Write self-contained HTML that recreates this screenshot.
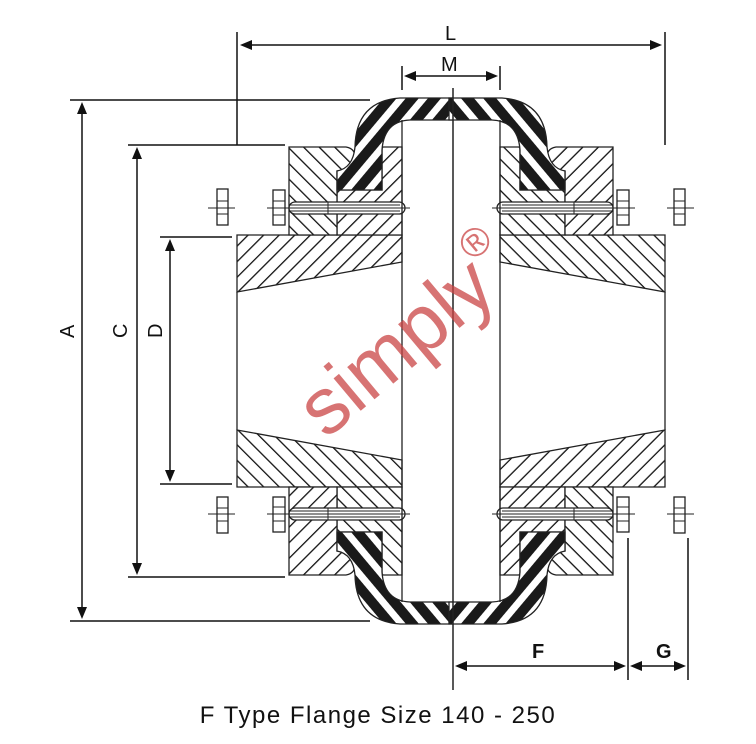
<!DOCTYPE html>
<html><head><meta charset="utf-8"><style>
html,body{margin:0;padding:0;background:#fff}
svg{display:block}
</style></head><body>
<svg width="756" height="744" viewBox="0 0 756 744" xmlns="http://www.w3.org/2000/svg">
<defs>
<pattern id="h1" patternUnits="userSpaceOnUse" width="11" height="11" patternTransform="rotate(45)">
<rect width="11" height="11" fill="#fff"/><rect x="0" y="0" width="1.3" height="11" fill="#111"/></pattern>
<pattern id="h2" patternUnits="userSpaceOnUse" width="11" height="11" patternTransform="rotate(-45)">
<rect width="11" height="11" fill="#fff"/><rect x="0" y="0" width="1.3" height="11" fill="#111"/></pattern>
<pattern id="tr" patternUnits="userSpaceOnUse" width="17" height="17" patternTransform="rotate(40)">
<rect width="17" height="17" fill="#fff"/><rect width="10" height="17" fill="#1a1a1a"/></pattern>
<g id="q" stroke="#222" stroke-width="1.3">
  <path d="M237,235 L402,235 L402,262 L237,292 Z" fill="url(#h1)"/>
  <path d="M382,147 L402,147 L402,235 L337,235 L337,190 L382,190 Z" fill="url(#h1)"/>
  <path d="M289,147 L346,147 Q357,149 354,160 Q349,170 337,171 L337,235 L289,235 Z" fill="url(#h2)"/>
  <path d="M453,98 L400,98 Q356,101 355,147 Q353,168 337,171 L337,190 L382,190 L382,150 Q384,121 410,120 L453,120 Z" fill="url(#tr)"/>
  <rect x="289" y="202" width="116" height="12" rx="6" fill="#fff"/>
  <line x1="289" y1="205" x2="400" y2="205" stroke-width="1"/>
  <line x1="289" y1="211" x2="400" y2="211" stroke-width="1"/>
  <line x1="328" y1="202" x2="328" y2="214" stroke-width="1"/>
  <rect x="273" y="190" width="12" height="35" fill="#fff"/>
  <line x1="273" y1="201" x2="285" y2="201" stroke-width="1"/>
  <line x1="273" y1="215" x2="285" y2="215" stroke-width="1"/>
  <line x1="267" y1="208" x2="410" y2="208" stroke-width="1"/>
  <rect x="217" y="189" width="11" height="36" fill="#fff"/>
  <line x1="217" y1="201" x2="228" y2="201" stroke-width="1"/>
  <line x1="217" y1="214" x2="228" y2="214" stroke-width="1"/>
  <line x1="208" y1="208" x2="235" y2="208" stroke-width="1"/>
  <line x1="402" y1="120" x2="402" y2="262"/>
</g>
</defs>
<use href="#q"/>
<use href="#q" transform="translate(902,0) scale(-1,1)"/>
<use href="#q" transform="translate(0,722) scale(1,-1)"/>
<use href="#q" transform="translate(902,722) scale(-1,-1)"/>
<g stroke="#222" stroke-width="1.3" fill="none">
<line x1="237" y1="292" x2="237" y2="430"/>
<line x1="665" y1="292" x2="665" y2="430"/>
<line x1="402" y1="262" x2="402" y2="460"/>
<line x1="500" y1="262" x2="500" y2="460"/>
<line x1="453" y1="88" x2="453" y2="690" stroke-width="1.5"/>
</g>
<g stroke="#111" stroke-width="1.5" fill="none">
<line x1="237" y1="32" x2="237" y2="145"/>
<line x1="665" y1="32" x2="665" y2="145"/>
<line x1="244" y1="45" x2="658" y2="45"/>
<line x1="402" y1="66" x2="402" y2="90"/>
<line x1="500" y1="66" x2="500" y2="90"/>
<line x1="408" y1="76" x2="494" y2="76"/>
<line x1="70" y1="100" x2="370" y2="100"/>
<line x1="70" y1="621" x2="370" y2="621"/>
<line x1="82" y1="107" x2="82" y2="614"/>
<line x1="128" y1="145" x2="285" y2="145"/>
<line x1="128" y1="577" x2="285" y2="577"/>
<line x1="137" y1="152" x2="137" y2="570"/>
<line x1="160" y1="237" x2="232" y2="237"/>
<line x1="160" y1="484" x2="232" y2="484"/>
<line x1="170" y1="244" x2="170" y2="477"/>
<line x1="628" y1="538" x2="628" y2="680"/>
<line x1="688" y1="538" x2="688" y2="680"/>
<line x1="460" y1="666" x2="621" y2="666"/>
<line x1="635" y1="666" x2="681" y2="666"/>
</g>
<g fill="#111">
<path d="M240,45 l12,-5 v10z"/><path d="M662,45 l-12,-5 v10z"/>
<path d="M404,76 l12,-5 v10z"/><path d="M498,76 l-12,-5 v10z"/>
<path d="M82,102 l-5,12 h10z"/><path d="M82,619 l-5,-12 h10z"/>
<path d="M137,147 l-5,12 h10z"/><path d="M137,575 l-5,-12 h10z"/>
<path d="M170,239 l-5,12 h10z"/><path d="M170,482 l-5,-12 h10z"/>
<path d="M455,666 l12,-5 v10z"/><path d="M626,666 l-12,-5 v10z"/>
<path d="M630,666 l12,-5 v10z"/><path d="M686,666 l-12,-5 v10z"/>
</g>
<g font-family="Liberation Sans, sans-serif" font-size="20" fill="#111">
<text x="445" y="40">L</text>
<text x="441" y="71">M</text>
<text x="74" y="352" transform="rotate(-90 67 345)">A</text>
<text x="127" y="352" transform="rotate(-90 120 345)">C</text>
<text x="162" y="352" transform="rotate(-90 155 345)">D</text>
<text x="532" y="658" font-weight="bold">F</text>
<text x="656" y="658" font-weight="bold">G</text>
</g>
<text x="378" y="723" text-anchor="middle" font-family="Liberation Sans, sans-serif" font-size="24" letter-spacing="1.5" fill="#111">F Type Flange Size 140 - 250</text>
<text x="0" y="0" transform="translate(326,440) rotate(-40)" font-family="Liberation Sans, sans-serif" font-size="80" fill="#c94444" fill-opacity="0.75">simply<tspan font-size="40" dy="-42">®</tspan></text>
</svg>
</body></html>
